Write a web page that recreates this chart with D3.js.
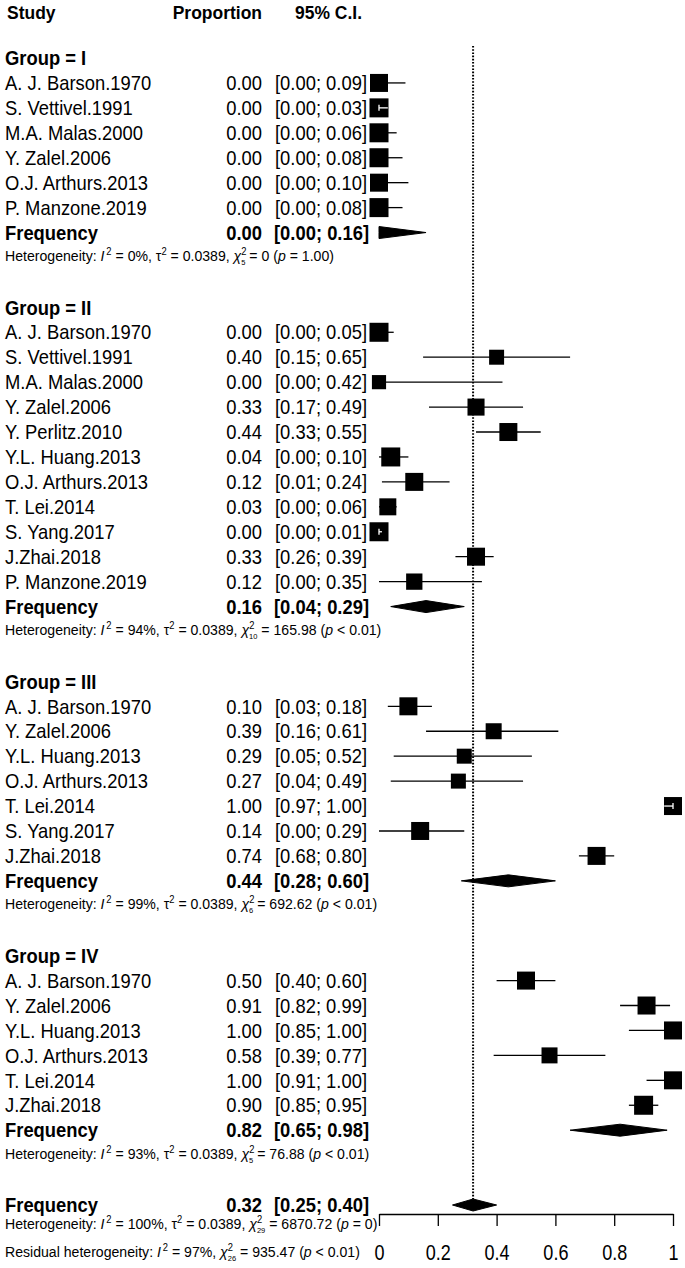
<!DOCTYPE html>
<html><head><meta charset="utf-8">
<script src="https://cdn.jsdelivr.net/npm/d3@7"></script>
<style>
html,body{margin:0;padding:0;background:#fff;}
svg{display:block;font-family:"Liberation Sans",Arial,sans-serif;}
</style></head>
<body>
<svg id="chart" width="685" height="1268"></svg>
<script>
// ---------- data ----------
const groups = ["I", "II", "III", "IV"];
const studyGroup = ["I","I","I","I","I","I",
  "II","II","II","II","II","II","II","II","II","II","II",
  "III","III","III","III","III","III","III",
  "IV","IV","IV","IV","IV","IV"];
const studyNames = [
  "A. J. Barson.1970","S. Vettivel.1991","M.A. Malas.2000","Y. Zalel.2006","O.J. Arthurs.2013","P. Manzone.2019",
  "A. J. Barson.1970","S. Vettivel.1991","M.A. Malas.2000","Y. Zalel.2006","Y. Perlitz.2010","Y.L. Huang.2013","O.J. Arthurs.2013","T. Lei.2014","S. Yang.2017","J.Zhai.2018","P. Manzone.2019",
  "A. J. Barson.1970","Y. Zalel.2006","Y.L. Huang.2013","O.J. Arthurs.2013","T. Lei.2014","S. Yang.2017","J.Zhai.2018",
  "A. J. Barson.1970","Y. Zalel.2006","Y.L. Huang.2013","O.J. Arthurs.2013","T. Lei.2014","J.Zhai.2018"];
const proportions = [0.00,0.00,0.00,0.00,0.00,0.00,
  0.00,0.40,0.00,0.33,0.44,0.04,0.12,0.03,0.00,0.33,0.12,
  0.10,0.39,0.29,0.27,1.00,0.14,0.74,
  0.50,0.91,1.00,0.58,1.00,0.90];
const lowerCI = [0.00,0.00,0.00,0.00,0.00,0.00,
  0.00,0.15,0.00,0.17,0.33,0.00,0.01,0.00,0.00,0.26,0.00,
  0.03,0.16,0.05,0.04,0.97,0.00,0.68,
  0.40,0.82,0.85,0.39,0.91,0.85];
const upperCI = [0.09,0.03,0.06,0.08,0.10,0.08,
  0.05,0.65,0.42,0.49,0.55,0.10,0.24,0.06,0.01,0.39,0.35,
  0.18,0.61,0.52,0.49,1.00,0.29,0.80,
  0.60,0.99,1.00,0.77,1.00,0.95];
const weights = [3.23,3.6,3.6,3.6,3.23,3.6,
  3.6,2.24,2.0,2.9,3.23,3.6,3.23,2.88,3.6,3.23,2.65,
  3.23,2.55,2.24,2.24,3.23,3.23,3.23,
  3.23,3.23,3.23,2.55,3.23,3.6];
const groupEst = [0.00, 0.16, 0.44, 0.82];
const groupLower = [0.00, 0.04, 0.28, 0.65];
const groupUpper = [0.16, 0.29, 0.60, 0.98];
const groupI2 = ["0%", "94%", "99%", "93%"];
const groupDf = ["5", "10", "6", "5"];
const groupQ = ["0", "165.98", "692.62", "76.88"];
const groupP = ["= 1.00", "< 0.01", "< 0.01", "< 0.01"];
const overallEst = 0.32, overallLower = 0.25, overallUpper = 0.40;
const overallHet = {I2: "100%", df: "29", Q: "6870.72", p: "= 0"};
const residualHet = {I2: "97%", df: "26", Q: "935.47", p: "< 0.01"};
const tau2 = "0.0389";
const axisTicks = [0, 0.2, 0.4, 0.6, 0.8, 1];
const headers = ["Study", "Proportion", "95% C.I."];

// ---------- layout ----------
const svg = d3.select("#chart");
const x = d3.scaleLinear().domain([0, 1]).range([379, 673]);
const rowY = d3.scaleLinear().domain([2, 48]).range([58, 1205]);
const side = d3.scaleSqrt().domain([0, 3.6]).range([0, 19]);
const fmt = d3.format(".2f");
const SX = 0.92, FS = 20, HS = 15, HSX = 0.94;

function txt(parent, px, py, str, o = {}) {
  const size = o.size || FS, sx = o.sx || SX;
  const t = parent.append("text")
    .attr("transform", `translate(${px},${py + 0.36 * size}) scale(${sx},1)`)
    .attr("text-anchor", o.anchor || "start")
    .attr("font-size", size)
    .attr("font-weight", o.bold ? "bold" : "normal")
    .attr("fill", "#000");
  if (str !== null) t.text(str);
  return t;
}

function het(parent, py, lead, I2, tau, df, Q, p) {
  const t = txt(parent, 5, py, null, {size: HS, sx: HSX});
  const sup = 10;
  t.append("tspan").text(lead + " ");
  t.append("tspan").attr("font-style", "italic").text("I");
  t.append("tspan").attr("font-size", sup).attr("dy", -6).attr("dx", 2).text("2");
  t.append("tspan").attr("dy", 6).text(" = " + I2 + ", ");
  if (tau) {
    t.append("tspan").text("\u03C4");
    t.append("tspan").attr("font-size", sup).attr("dy", -6).text("2");
    t.append("tspan").attr("dy", 6).text(" = " + tau + ", ");
  }
  t.append("tspan").attr("font-style", "italic").text("\u03C7");
  t.append("tspan").attr("font-size", sup).attr("dy", -6).text("2");
  t.append("tspan").attr("font-size", sup * 0.8).attr("dy", 10).attr("dx", -5.6).text(df);
  t.append("tspan").attr("dy", -4).text(" = " + Q + " (");
  t.append("tspan").attr("font-style", "italic").text("p");
  t.append("tspan").text(" " + p + ")");
}

// headers
txt(svg, 7, 12, headers[0], {bold: true, size: 19});
txt(svg, 262, 12, headers[1], {bold: true, size: 19, anchor: "end"});
txt(svg, 295, 12, headers[2], {bold: true, size: 19});

// reference (dotted) line
svg.append("line")
  .attr("x1", x(overallEst)).attr("x2", x(overallEst))
  .attr("y1", 46).attr("y2", rowY(48) - 6)
  .attr("stroke", "#000").attr("stroke-width", 2)
  .attr("stroke-dasharray", "1.6,1.6");

function diamond(py, lo, est, hi, h) {
  svg.append("polygon")
    .attr("points", [[x(lo), py], [x(est), py - h], [x(hi), py], [x(est), py + h]].map(p => p.join(",")).join(" "))
    .attr("fill", "#000").attr("stroke", "#000").attr("stroke-width", 1);
}

let r = 2;
groups.forEach((g, gi) => {
  txt(svg, 5, rowY(r), "Group = " + g, {bold: true});
  r++;
  studyNames.forEach((name, i) => {
    if (studyGroup[i] !== g) return;
    const y = rowY(r);
    txt(svg, 5, y, name);
    txt(svg, 262, y, fmt(proportions[i]), {anchor: "end"});
    txt(svg, 275, y, "[" + fmt(lowerCI[i]) + "; " + fmt(upperCI[i]) + "]");
    const s = side(weights[i]);
    svg.append("line").attr("x1", x(lowerCI[i])).attr("x2", x(upperCI[i]))
      .attr("y1", y).attr("y2", y).attr("stroke", "#000").attr("stroke-width", 1.3);
    svg.append("rect").attr("x", x(proportions[i]) - s / 2).attr("y", y - s / 2)
      .attr("width", s).attr("height", s).attr("fill", "#000");
    const inside = x(lowerCI[i]) >= x(proportions[i]) - s / 2 && x(upperCI[i]) <= x(proportions[i]) + s / 2;
    if (inside) {
      svg.append("line").attr("x1", x(lowerCI[i])).attr("x2", x(upperCI[i]))
        .attr("y1", y).attr("y2", y).attr("stroke", "#fff").attr("stroke-width", 1.3);
      svg.append("line").attr("x1", x(proportions[i])).attr("x2", x(proportions[i]))
        .attr("y1", y - 3).attr("y2", y + 3).attr("stroke", "#fff").attr("stroke-width", 1.3);
    }
    r++;
  });
  const y = rowY(r);
  txt(svg, 5, y, "Frequency", {bold: true});
  txt(svg, 262, y, fmt(groupEst[gi]), {bold: true, anchor: "end"});
  txt(svg, 274, y, "[" + fmt(groupLower[gi]) + "; " + fmt(groupUpper[gi]) + "]", {bold: true});
  diamond(y, groupLower[gi], groupEst[gi], groupUpper[gi], 6);
  het(svg, y + 23, "Heterogeneity:", groupI2[gi], tau2, groupDf[gi], groupQ[gi], groupP[gi]);
  r += 3;
});

// overall
const yo = rowY(r);
txt(svg, 5, yo, "Frequency", {bold: true});
txt(svg, 262, yo, fmt(overallEst), {bold: true, anchor: "end"});
txt(svg, 274, yo, "[" + fmt(overallLower) + "; " + fmt(overallUpper) + "]", {bold: true});
diamond(yo, overallLower, overallEst, overallUpper, 6);
het(svg, yo + 19, "Heterogeneity:", overallHet.I2, tau2, overallHet.df, overallHet.Q, overallHet.p);
het(svg, yo + 47, "Residual heterogeneity:", residualHet.I2, null, residualHet.df, residualHet.Q, residualHet.p);

// axis
const axisY = yo + 9;
const ax = svg.append("g").attr("transform", `translate(0,${axisY})`)
  .call(d3.axisBottom(x).tickValues(axisTicks).tickSize(12).tickSizeOuter(0).tickFormat(d3.format("")));
ax.select(".domain").attr("stroke", "#000").attr("stroke-width", 1.3);
ax.selectAll(".tick line").attr("stroke", "#000").attr("stroke-width", 1.3);
ax.selectAll(".tick text")
  .attr("font-family", "Liberation Sans, Arial, sans-serif")
  .attr("font-size", 22).attr("fill", "#000")
  .attr("y", 38 + 0.36 * 22).attr("dy", null)
  .attr("transform", "scale(0.82,1)");
</script>
</body></html>
